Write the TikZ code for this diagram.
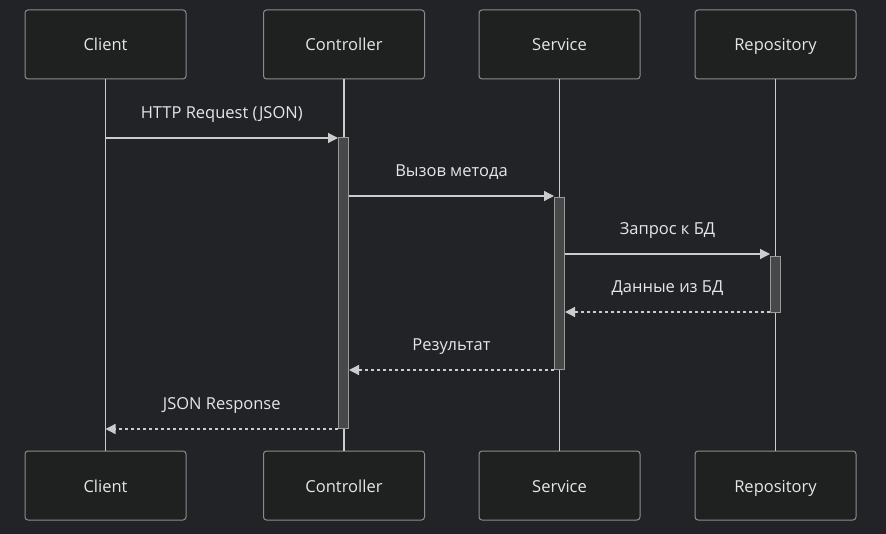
\documentclass[tikz,border=0pt]{standalone}
\usepackage{fontspec}
\setmainfont{Open Sans}
\usetikzlibrary{arrows.meta}
\definecolor{bg}{HTML}{222327}
\definecolor{boxfill}{HTML}{1F2020}
\definecolor{boxborder}{HTML}{8C8C8C}
\definecolor{actfill}{HTML}{474949}
\definecolor{actborder}{HTML}{9A9A9A}
\definecolor{linec}{HTML}{CCCCCC}
\definecolor{txt}{HTML}{E6E6E6}
\begin{document}
\begin{tikzpicture}[x=1pt,y=-1pt,
  actor/.style={draw=boxborder, fill=boxfill, rounded corners=3pt, minimum width=161pt, minimum height=69pt, inner sep=0pt, text=txt, font=\fontsize{16.5}{19}\selectfont, text height=14pt, text depth=1pt, line width=1pt},
  life/.style={draw=linec, line width=1.3pt},
  actbar/.style={draw=actborder, fill=actfill, minimum width=10pt, inner sep=0pt, line width=1pt},
  msg/.style={draw=linec, line width=1.3pt, -{Triangle[length=10pt,width=10pt]}},
  reply/.style={msg, dash pattern=on 3pt off 3pt},
  lbl/.style={text=txt, font=\fontsize{16.5}{19}\selectfont, inner sep=0pt, text height=12pt, text depth=3pt}]
\fill[bg] (0,0) rectangle (886,534);
\useasboundingbox (0,0) rectangle (886,534);
% top actors
\node[actor] (c1) at (105.5,44.5) {Client};
\node[actor] (k1) at (344,44.5) {Controller};
\node[actor] (s1) at (559.5,44.5) {Service};
\node[actor] (r1) at (775.5,44.5) {Repository};
% bottom actors
\node[actor] (c2) at (105.5,485.5) {Client};
\node[actor] (k2) at (344,485.5) {Controller};
\node[actor] (s2) at (559.5,485.5) {Service};
\node[actor] (r2) at (775.5,485.5) {Repository};
% lifelines
\draw[life] (c1.south) -- (c2.north);
\draw[life] (k1.south) -- (k2.north);
\draw[life] (s1.south) -- (s2.north);
\draw[life] (r1.south) -- (r2.north);
% activations
\node[actbar, minimum height=290pt] (a1) at (343.5,283) {};
\node[actbar, minimum height=172pt] (a2) at (559.5,284) {};
\node[actbar, minimum height=56pt] (a3) at (775.5,285) {};
% message levels
\coordinate (y1) at (0,138);
\coordinate (y2) at (0,196);
\coordinate (y3) at (0,254);
\coordinate (y4) at (0,312);
\coordinate (y5) at (0,370);
\coordinate (y6) at (0,429);
% messages
\draw[msg] (c1.south |- y1) -- node[lbl, above=16pt] (l1) {HTTP Request (JSON)} (a1.west |- y1);
\draw[msg] (a1.east |- y2) -- node[lbl, above=16pt] (l2) {Вызов метода} (a2.west |- y2);
\draw[msg] (a2.east |- y3) -- node[lbl, above=16pt] (l3) {Запрос к БД} (a3.west |- y3);
\draw[reply] (a3.west |- y4) -- node[lbl, above=16pt] (l4) {Данные из БД} (a2.east |- y4);
\draw[reply] (a2.west |- y5) -- node[lbl, above=16pt] (l5) {Результат} (a1.east |- y5);
\draw[reply] (a1.west |- y6) -- node[lbl, above=16pt] (l6) {JSON Response} (c1.south |- y6);
\end{tikzpicture}
\end{document}
